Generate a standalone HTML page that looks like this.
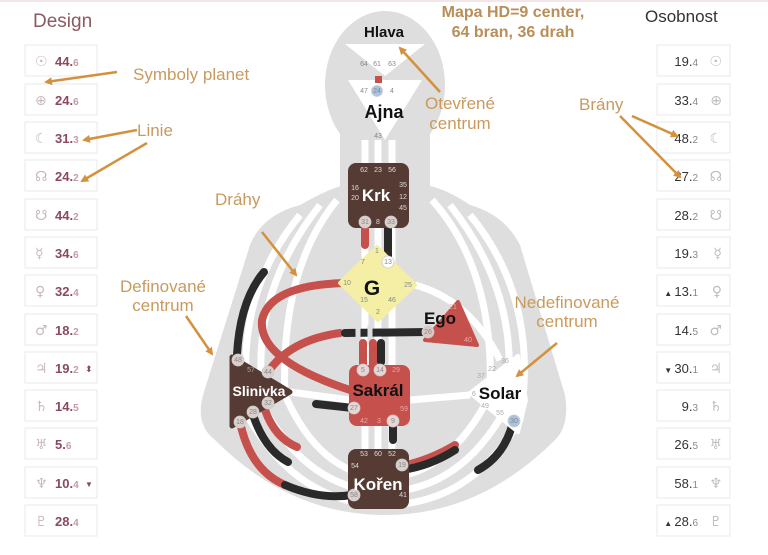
<!DOCTYPE html>
<html><head><meta charset="utf-8"><style>
html,body{margin:0;padding:0;background:#fff;}
svg{display:block;font-family:"Liberation Sans","DejaVu Sans",sans-serif;}
.box{fill:#fff;stroke:#ececec;stroke-width:1.2}
.ds{fill:#c9b9bb;font-size:14px;font-family:"DejaVu Sans",sans-serif}
.dn{fill:#8a4a5c;font-size:13px;font-weight:bold}
.dd{fill:#c79aa4;font-size:10px}
.ps{fill:#bdbdbd;font-size:14px;font-family:"DejaVu Sans",sans-serif}
.pn{fill:#333;font-size:13px}
.pd{fill:#888;font-size:10px}
.ann{fill:#c99a5e;font-size:17px}
.ar{stroke:#d4913d;stroke-width:2.5;fill:none;marker-end:url(#ah)}
.g{fill:#888;font-size:7px;text-anchor:middle}
.gw{fill:#ddd;font-size:7px;text-anchor:middle}
.ch{fill:none;stroke-width:8;stroke-linecap:round}
.wl{fill:none;stroke:#fff;stroke-width:7}
</style></head><body>
<svg width="768" height="555" viewBox="0 0 768 555">
<defs><marker id="ah" markerWidth="8" markerHeight="8" refX="6" refY="4" orient="auto" markerUnits="userSpaceOnUse"><path d="M0,0 L8,4 L0,8 Z" fill="#d4913d"/></marker></defs>
<line x1="0" y1="1" x2="768" y2="1" stroke="#f3e6e8" stroke-width="2"/>

<g fill="#dedede">
<ellipse cx="385" cy="85" rx="60" ry="74"/>
<rect x="340" y="120" width="90" height="80"/>
<path d="M300,205 Q330,188 345,185 L425,185 Q445,188 470,205 Q505,215 520,245 L565,395 Q570,425 555,440 Q480,515 385,515 Q290,515 215,440 Q195,425 203,395 L250,245 Q262,215 300,205 Z"/>
</g>
<g class="wl">
<path d="M365,140 L365,460"/><path d="M378,140 L378,460"/><path d="M392,140 L392,460"/>
<path d="M300,215 Q230,300 250,420 Q300,505 385,505 Q470,505 520,420 Q540,300 470,215"/>
<path d="M320,205 Q245,300 265,410 Q310,490 385,492 Q460,490 505,410 Q525,300 450,205"/>
<path d="M337,200 Q280,270 285,395 Q320,475 385,478 Q450,475 490,395 Q495,270 432,200"/>
<path d="M290,392 L350,400"/><path d="M410,400 L470,395"/>
<path d="M415,285 Q470,300 500,360"/>
</g>
<path d="M345,44 L425,44 L385,76 Z" fill="#fff"/>
<path d="M348,80 L422,80 L385,140 Z" fill="#fff"/>

<path class="ch" d="M365,225 L365,245" stroke="#c6504c"/>
<path class="ch" d="M388,225 L388,262" stroke="#2a2a2a"/>
<path class="ch" d="M345,283 Q270,285 262,320 Q258,360 350,390" stroke="#c6504c"/>
<path class="ch" d="M268,372 Q290,340 340,333" stroke="#c6504c"/>
<path class="ch" d="M345,333 L428,332" stroke="#2a2a2a"/>
<path d="M358,325 L358,345 M370,325 L370,345" stroke="#dedede" stroke-width="5"/>
<path class="ch" d="M363,343 L363,368 M373,343 L373,368" stroke="#c6504c"/>
<path class="ch" d="M381,343 L381,362" stroke="#2a2a2a"/>
<path class="ch" d="M353,408 L316,404" stroke="#2a2a2a"/>
<path class="ch" d="M393,420 L393,440" stroke="#2a2a2a"/>
<path class="ch" d="M237,355 Q240,300 264,272" stroke="#2a2a2a"/>
<path class="ch" d="M240,422 Q250,470 285,485" stroke="#c6504c"/>
<path class="ch" d="M285,485 Q320,500 352,495" stroke="#2a2a2a"/>
<path class="ch" d="M253,415 Q265,450 288,462" stroke="#2a2a2a"/>
<path class="ch" d="M265,410 Q275,438 297,447" stroke="#c6504c"/>
<path class="ch" d="M402,466 Q430,460 455,445" stroke="#c6504c"/>
<path class="ch" d="M402,470 Q430,466 455,450" stroke="#2a2a2a" stroke-width="3"/>
<path class="ch" d="M513,422 Q505,455 478,470" stroke="#2a2a2a"/>

<rect x="348" y="163" width="61" height="65" rx="8" fill="#553b33"/>
<path d="M377,247 L415,285 L378,320 L340,283 Z" fill="#f4efa4" stroke="#f4efa4" stroke-width="4" stroke-linejoin="round"/>
<path d="M458,302 L477,345 L425,340 Z" fill="#c6504c" stroke="#c6504c" stroke-width="4" stroke-linejoin="round"/>
<rect x="349" y="365" width="61" height="61" rx="8" fill="#c6504c"/>
<rect x="348" y="449" width="61" height="60" rx="8" fill="#553b33"/>
<path d="M232,357 L290,392 L232,426 Z" fill="#553b33" stroke="#553b33" stroke-width="5" stroke-linejoin="round"/>
<path d="M470,393 L518,356 L526,400 L518,432 Z" fill="#fff" stroke="#fff" stroke-width="4" stroke-linejoin="round"/>
<rect x="375" y="76" width="7" height="7" fill="#c6504c"/>

<g stroke="#ccc" stroke-width="0.8">
<circle cx="377" cy="91" r="5.5" fill="#a9c3e0"/>
<circle cx="365" cy="222" r="6" fill="#d9d0cc"/><circle cx="391" cy="222" r="6" fill="#d9d0cc"/>
<circle cx="388" cy="262" r="6" fill="#fff"/>
<circle cx="428" cy="332" r="6" fill="#d9c9c6"/>
<circle cx="363" cy="370" r="6" fill="#e6d7d6"/><circle cx="380" cy="370" r="6" fill="#e6d7d6"/>
<circle cx="354" cy="408" r="6" fill="#e6d7d6"/><circle cx="393" cy="421" r="6" fill="#e6d7d6"/>
<circle cx="402" cy="465" r="6" fill="#d9d0cc"/><circle cx="354" cy="495" r="6" fill="#d9d0cc"/>
<circle cx="238" cy="360" r="6" fill="#d9d0cc"/><circle cx="268" cy="372" r="6" fill="#d9d0cc"/>
<circle cx="268" cy="403" r="6" fill="#d9d0cc"/><circle cx="253" cy="412" r="6" fill="#d9d0cc"/><circle cx="240" cy="422" r="6" fill="#d9d0cc"/>
<circle cx="514" cy="421" r="6" fill="#a9c3e0"/>
</g>
<g class="g">
<text x="364" y="66">64</text><text x="377" y="66">61</text><text x="392" y="66">63</text>
<text x="364" y="93">47</text><text x="377" y="93">24</text><text x="392" y="93">4</text>
<text x="378" y="138">43</text>
<text x="377" y="253">1</text><text x="363" y="264">7</text><text x="388" y="264">13</text>
<text x="347" y="285">10</text><text x="408" y="287">25</text>
<text x="364" y="302">15</text><text x="392" y="302">46</text><text x="378" y="314">2</text>
<text x="428" y="334">26</text><text x="453" y="309" fill="#e9a9a6">21</text><text x="468" y="342" fill="#e9a9a6">40</text>
<text x="363" y="372">5</text><text x="380" y="372">14</text><text x="396" y="372" fill="#e9a9a6">29</text>
<text x="354" y="410">27</text><text x="404" y="411" fill="#e9a9a6">59</text>
<text x="364" y="423" fill="#e9a9a6">42</text><text x="379" y="423" fill="#e9a9a6">3</text><text x="393" y="423">9</text>
<text x="238" y="362">48</text><text x="251" y="372" fill="#aaa">57</text><text x="268" y="374">44</text>
<text x="268" y="405">32</text><text x="253" y="414">28</text><text x="240" y="424">18</text>
<text x="505" y="363" fill="#aaa">36</text><text x="492" y="371" fill="#aaa">22</text><text x="481" y="378" fill="#aaa">37</text>
<text x="474" y="396" fill="#aaa">6</text><text x="485" y="408" fill="#aaa">49</text><text x="500" y="415" fill="#aaa">55</text><text x="514" y="423">30</text>
<text x="365" y="224">31</text><text x="391" y="224">33</text>
<text x="402" y="467">19</text><text x="354" y="497">58</text>
</g>
<g class="gw" fill="#b9a9a4">
<text x="364" y="172">62</text><text x="378" y="172">23</text><text x="392" y="172">56</text>
<text x="355" y="190">16</text><text x="355" y="200">20</text><text x="403" y="187">35</text><text x="403" y="199">12</text><text x="403" y="210">45</text>
<text x="378" y="224">8</text>
<text x="364" y="456">53</text><text x="378" y="456">60</text><text x="392" y="456">52</text>
<text x="355" y="468">54</text><text x="403" y="497">41</text>
</g>
<text x="384" y="37" text-anchor="middle" font-size="15" font-weight="bold" fill="#111">Hlava</text>
<text x="384" y="118" text-anchor="middle" font-size="18" font-weight="bold" fill="#111">Ajna</text>
<text x="376" y="201" text-anchor="middle" font-size="17" font-weight="bold" fill="#fff">Krk</text>
<text x="372" y="295" text-anchor="middle" font-size="21" font-weight="bold" fill="#111">G</text>
<text x="440" y="324" text-anchor="middle" font-size="17" font-weight="bold" fill="#111">Ego</text>
<text x="378" y="396" text-anchor="middle" font-size="17" font-weight="bold" fill="#111">Sakrál</text>
<text x="378" y="490" text-anchor="middle" font-size="17" font-weight="bold" fill="#fff">Kořen</text>
<text x="259" y="396" text-anchor="middle" font-size="14" font-weight="bold" fill="#fff">Slinivka</text>
<text x="500" y="399" text-anchor="middle" font-size="17" font-weight="bold" fill="#111">Solar</text>

<text x="33" y="27" font-size="19" fill="#8a5a60">Design</text>
<text x="645" y="22" font-size="17" fill="#333">Osobnost</text>
<text x="513" y="17" text-anchor="middle" font-size="16" font-weight="bold" fill="#b98e58">Mapa HD=9 center,</text>
<text x="513" y="37" text-anchor="middle" font-size="16" font-weight="bold" fill="#b98e58">64 bran, 36 drah</text>

<g>
<rect class="box" x="25" y="45" width="72" height="31"/><text class="ds" x="35" y="66">☉</text><text class="dn" x="55" y="66">44.<tspan class="dd">6</tspan></text>
<rect class="box" x="25" y="84" width="72" height="31"/><text class="ds" x="35" y="105">⊕</text><text class="dn" x="55" y="105">24.<tspan class="dd">6</tspan></text>
<rect class="box" x="25" y="122" width="72" height="31"/><text class="ds" x="35" y="143">☾</text><text class="dn" x="55" y="143">31.<tspan class="dd">3</tspan></text>
<rect class="box" x="25" y="160" width="72" height="31"/><text class="ds" x="35" y="181">☊</text><text class="dn" x="55" y="181">24.<tspan class="dd">2</tspan></text>
<rect class="box" x="25" y="199" width="72" height="31"/><text class="ds" x="35" y="220">☋</text><text class="dn" x="55" y="220">44.<tspan class="dd">2</tspan></text>
<rect class="box" x="25" y="237" width="72" height="31"/><text class="ds" x="35" y="258">☿</text><text class="dn" x="55" y="258">34.<tspan class="dd">6</tspan></text>
<rect class="box" x="25" y="275" width="72" height="31"/><text class="ds" x="35" y="296">♀</text><text class="dn" x="55" y="296">32.<tspan class="dd">4</tspan></text>
<rect class="box" x="25" y="314" width="72" height="31"/><text class="ds" x="35" y="335">♂</text><text class="dn" x="55" y="335">18.<tspan class="dd">2</tspan></text>
<rect class="box" x="25" y="352" width="72" height="31"/><text class="ds" x="35" y="373">♃</text><text class="dn" x="55" y="373">19.<tspan class="dd">2</tspan></text><text x="85" y="372" font-size="9" fill="#8a4a5c">⬍</text>
<rect class="box" x="25" y="390" width="72" height="31"/><text class="ds" x="35" y="411">♄</text><text class="dn" x="55" y="411">14.<tspan class="dd">5</tspan></text>
<rect class="box" x="25" y="428" width="72" height="31"/><text class="ds" x="35" y="449">♅</text><text class="dn" x="55" y="449">5.<tspan class="dd">6</tspan></text>
<rect class="box" x="25" y="467" width="72" height="31"/><text class="ds" x="35" y="488">♆</text><text class="dn" x="55" y="488">10.<tspan class="dd">4</tspan></text><text x="85" y="487" font-size="8" fill="#8a4a5c">▼</text>
<rect class="box" x="25" y="505" width="72" height="31"/><text class="ds" x="35" y="526">♇</text><text class="dn" x="55" y="526">28.<tspan class="dd">4</tspan></text>
</g>
<g text-anchor="end">
<rect class="box" x="657" y="45" width="73" height="31"/><text class="pn" x="698" y="66">19.<tspan class="pd">4</tspan></text><text class="ps" x="722" y="66">☉</text>
<rect class="box" x="657" y="84" width="73" height="31"/><text class="pn" x="698" y="105">33.<tspan class="pd">4</tspan></text><text class="ps" x="722" y="105">⊕</text>
<rect class="box" x="657" y="122" width="73" height="31"/><text class="pn" x="698" y="143">48.<tspan class="pd">2</tspan></text><text class="ps" x="722" y="143">☾</text>
<rect class="box" x="657" y="160" width="73" height="31"/><text class="pn" x="698" y="181">27.<tspan class="pd">2</tspan></text><text class="ps" x="722" y="181">☊</text>
<rect class="box" x="657" y="199" width="73" height="31"/><text class="pn" x="698" y="220">28.<tspan class="pd">2</tspan></text><text class="ps" x="722" y="220">☋</text>
<rect class="box" x="657" y="237" width="73" height="31"/><text class="pn" x="698" y="258">19.<tspan class="pd">3</tspan></text><text class="ps" x="722" y="258">☿</text>
<rect class="box" x="657" y="275" width="73" height="31"/><text class="pn" x="698" y="296"><tspan font-size="8">▲ </tspan>13.<tspan class="pd">1</tspan></text><text class="ps" x="722" y="296">♀</text>
<rect class="box" x="657" y="314" width="73" height="31"/><text class="pn" x="698" y="335">14.<tspan class="pd">5</tspan></text><text class="ps" x="722" y="335">♂</text>
<rect class="box" x="657" y="352" width="73" height="31"/><text class="pn" x="698" y="373"><tspan font-size="8">▼ </tspan>30.<tspan class="pd">1</tspan></text><text class="ps" x="722" y="373">♃</text>
<rect class="box" x="657" y="390" width="73" height="31"/><text class="pn" x="698" y="411">9.<tspan class="pd">3</tspan></text><text class="ps" x="722" y="411">♄</text>
<rect class="box" x="657" y="428" width="73" height="31"/><text class="pn" x="698" y="449">26.<tspan class="pd">5</tspan></text><text class="ps" x="722" y="449">♅</text>
<rect class="box" x="657" y="467" width="73" height="31"/><text class="pn" x="698" y="488">58.<tspan class="pd">1</tspan></text><text class="ps" x="722" y="488">♆</text>
<rect class="box" x="657" y="505" width="73" height="31"/><text class="pn" x="698" y="526"><tspan font-size="8">▲ </tspan>28.<tspan class="pd">6</tspan></text><text class="ps" x="722" y="526">♇</text>
</g>

<text class="ann" x="133" y="80">Symboly planet</text>
<text class="ann" x="137" y="136">Linie</text>
<text class="ann" x="215" y="205">Dráhy</text>
<text class="ann" x="163" y="292" text-anchor="middle">Definované</text>
<text class="ann" x="163" y="311" text-anchor="middle">centrum</text>
<text class="ann" x="460" y="109" text-anchor="middle">Otevřené</text>
<text class="ann" x="460" y="129" text-anchor="middle">centrum</text>
<text class="ann" x="579" y="110">Brány</text>
<text class="ann" x="567" y="308" text-anchor="middle">Nedefinované</text>
<text class="ann" x="567" y="327" text-anchor="middle">centrum</text>
<path class="ar" d="M117,72 L46,82"/>
<path class="ar" d="M137,130 L84,140"/>
<path class="ar" d="M147,143 L82,181"/>
<path class="ar" d="M262,232 L296,275"/>
<path class="ar" d="M186,316 L212,354"/>
<path class="ar" d="M440,92 L400,48"/>
<path class="ar" d="M632,116 L677,136"/>
<path class="ar" d="M620,116 L680,177"/>
<path class="ar" d="M557,343 L517,376"/>
</svg>
</body></html>
